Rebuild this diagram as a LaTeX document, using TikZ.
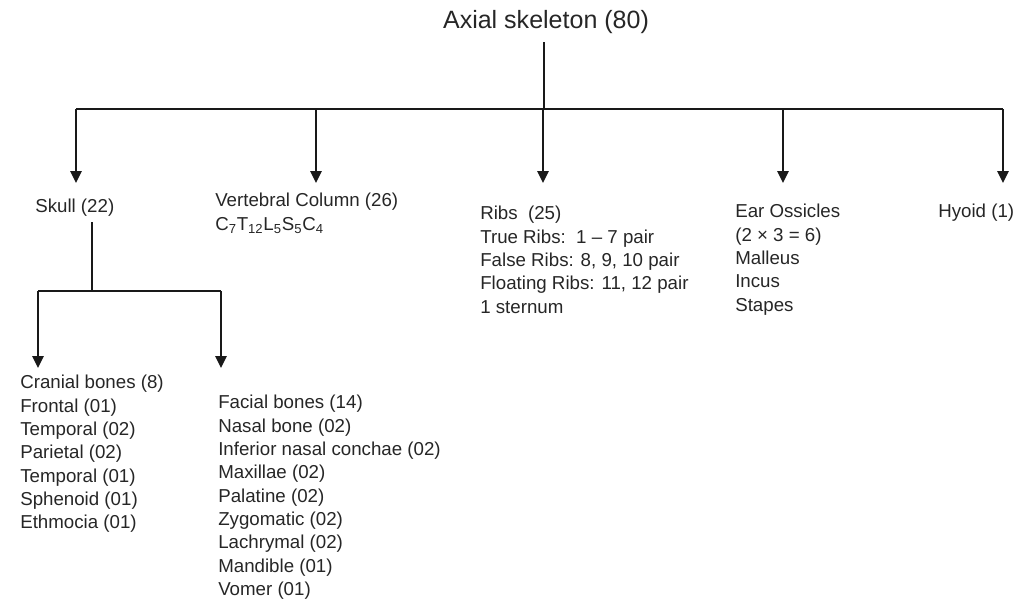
\documentclass[tikz,border=0pt]{standalone}
\usepackage{fontspec}
\setmainfont{Liberation Sans}
\usetikzlibrary{arrows.meta,positioning}
\definecolor{bonetext}{RGB}{38,38,38}
\definecolor{boneline}{RGB}{25,25,25}

\begin{document}
\begin{tikzpicture}[x=0.025cm,y=-0.025cm,
  lbl/.style={font=\fontsize{13.3}{16.6}\selectfont,text=bonetext,inner sep=0pt,anchor=base west,align=left},
  block/.style={lbl,anchor=north west},
  link/.style={line width=1.3pt,draw=boneline},
  drop/.style={link,-{Triangle[length=8.5pt,width=8pt]}}]
\useasboundingbox (0,0) rectangle (1016,598);

% root
\node[lbl,font=\fontsize{17.8}{20}\selectfont,anchor=center] (axial) at (546,22) {Axial skeleton (80)};

% first level
\node[lbl] (skull) at (35,212) {Skull (22)};
\node[block] (vertebral) at (215,193) {Vertebral Column (26)\\
  C\textsubscript{7}T\textsubscript{12}L\textsubscript{5}S\textsubscript{5}C\textsubscript{4}};
\node[block] (ribs) at (480,206) {Ribs\ \ (25)\\True Ribs:\ \ 1 -- 7 pair\\False Ribs: 8, 9, 10 pair\\
  Floating Ribs: 11, 12 pair\\1 sternum};
\node[block] (ear) at (735,204) {Ear Ossicles\\(2 × 3 = 6)\\Malleus\\Incus\\Stapes};
\node[lbl] (hyoid) at (938,217) {Hyoid (1)};

% skull bones
\node[block] (cranial) at (20,375) {Cranial bones (8)\\Frontal (01)\\Temporal (02)\\Parietal (02)\\
  Temporal (01)\\Sphenoid (01)\\Ethmocia (01)};
\node[block] (facial) at (218,395) {Facial bones (14)\\Nasal bone (02)\\Inferior nasal conchae (02)\\
  Maxillae (02)\\Palatine (02)\\Zygomatic (02)\\Lachrymal (02)\\Mandible (01)\\Vomer (01)};

% junctions
\coordinate (hub) at (544,109);
\coordinate (jSkull) at (76,109);
\coordinate (jVert) at (316,109);
\coordinate (jRibs) at (543,109);
\coordinate (jEar) at (783,109);
\coordinate (jHyoid) at (1003,109);
\coordinate (tipSkull) at (76,183);
\coordinate (tipVert) at (316,183);
\coordinate (tipRibs) at (543,183);
\coordinate (tipEar) at (783,183);
\coordinate (tipHyoid) at (1003,183);
\coordinate (skullFoot) at (92,222);
\coordinate (skullHub) at (92,291);
\coordinate (jCranial) at (38,291);
\coordinate (jFacial) at (221,291);
\coordinate (tipCranial) at (38,368);
\coordinate (tipFacial) at (221,368);

\draw[link,shorten <=6pt] (hub |- axial.south) -- (hub);
\draw[link] (jSkull) -- (jHyoid);
\draw[drop] (jSkull) -- (tipSkull);
\draw[drop] (jVert) -- (tipVert);
\draw[drop] (jRibs) -- (tipRibs);
\draw[drop] (jEar) -- (tipEar);
\draw[drop] (jHyoid) -- (tipHyoid);

\draw[link] (skullFoot) -- (skullHub);
\draw[link] (jCranial) -- (jFacial);
\draw[drop] (jCranial) -- (tipCranial);
\draw[drop] (jFacial) -- (tipFacial);
\end{tikzpicture}
\end{document}
